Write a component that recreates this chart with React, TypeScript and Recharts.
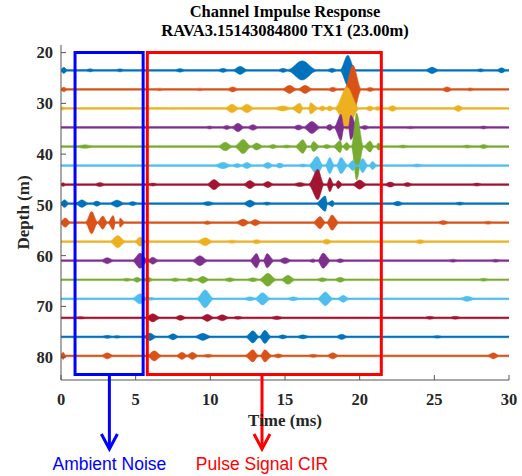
import React from 'react';
import { ComposedChart, Area, XAxis, YAxis, ReferenceArea, ReferenceLine } from 'recharts';

const timeTicks = [0, 5, 10, 15, 20, 25, 30];
const depthTicks = [20, 30, 40, 50, 60, 70, 80];

const traceDepths = [23.5, 27.25, 31, 34.75, 38.5, 42.25, 46, 49.75, 53.5, 57.25, 61, 64.75, 68.5, 72.25, 76, 79.75];
const matlabColors = ['#0072BD', '#D95319', '#EDB120', '#7E2F8E', '#77AC30', '#4DBEEE', '#A2142F'];

// envelope blobs: [time (ms), half amplitude (m), half width (ms)]
const trace01 = [[0.2, 0.6, 0.2], [1.95, 0.3, 0.25], [3.95, 0.3, 0.25], [7.97, 0.35, 0.3], [10.85, 0.4, 0.3], [12.0, 0.8, 0.45], [14.87, 0.4, 0.3], [16.15, 1.9, 0.95], [18.15, 0.4, 0.3], [19.2, 3.0, 0.5], [24.85, 0.65, 0.4], [28.1, 0.3, 0.25], [29.5, 0.5, 0.3]];
const trace02 = [[0.2, 0.45, 0.2], [6.6, 0.25, 0.25], [9.3, 0.25, 0.25], [11.5, 0.5, 0.35], [15.3, 0.8, 0.45], [16.35, 0.8, 0.45], [18.2, 0.45, 0.3], [19.55, 4.8, 0.55], [20.7, 0.4, 0.3], [25.85, 0.5, 0.35], [27.4, 0.3, 0.25]];
const trace03 = [[0.1, 0.3, 0.2], [7.5, 0.2, 0.25], [11.45, 0.85, 0.45], [12.45, 0.85, 0.45], [14.85, 0.5, 0.6], [16.0, 1.0, 0.6], [16.7, 1.1, 0.5], [17.5, 0.5, 0.25], [18.0, 0.5, 0.25], [19.15, 4.2, 0.8], [20.7, 0.5, 0.3], [21.2, 0.4, 0.25], [22.2, 0.55, 0.35], [26.6, 0.6, 0.35]];
const trace04 = [[9.95, 0.3, 0.25], [11.1, 0.4, 0.3], [11.85, 0.85, 0.4], [12.85, 0.55, 0.35], [15.9, 0.5, 0.35], [16.8, 1.2, 0.55], [18.0, 0.6, 0.3], [18.75, 2.6, 0.5], [19.4, 2.4, 0.45], [20.35, 0.4, 0.3], [23.4, 0.25, 0.3], [28.3, 0.3, 0.3]];
const trace05 = [[1.6, 0.35, 0.5], [11.0, 0.85, 0.45], [12.2, 1.4, 0.55], [13.1, 0.7, 0.4], [14.2, 0.4, 0.3], [15.1, 0.3, 0.3], [16.2, 1.35, 0.5], [16.9, 1.0, 0.4], [17.8, 0.4, 0.3], [18.7, 1.2, 0.45], [19.15, 0.8, 0.3], [19.8, 6.6, 0.45], [20.7, 1.1, 0.4], [21.25, 0.7, 0.3], [22.9, 0.3, 0.3], [27.2, 0.3, 0.3], [28.3, 0.4, 0.3]];
const trace06 = [[10.85, 0.65, 0.5], [11.8, 0.4, 0.3], [12.45, 0.6, 0.35], [13.85, 0.6, 0.35], [14.65, 0.5, 0.3], [16.2, 0.3, 0.3], [17.15, 1.8, 0.55], [18.0, 1.6, 0.45], [18.75, 1.6, 0.45], [19.55, 1.0, 0.35], [20.2, 1.4, 0.45], [20.85, 0.8, 0.3], [23.85, 0.3, 0.35]];
const trace07 = [[0.15, 0.35, 0.15], [2.6, 0.4, 0.3], [6.15, 0.3, 0.3], [10.25, 1.0, 0.45], [12.65, 0.8, 0.4], [13.85, 0.6, 0.35], [16.0, 0.4, 0.4], [17.2, 3.0, 0.6], [18.0, 1.4, 0.4], [18.55, 0.8, 0.3], [20.0, 0.9, 0.45], [22.05, 0.5, 0.35], [23.2, 0.4, 0.3], [27.85, 0.3, 0.3]];
const trace08 = [[0.25, 0.75, 0.25], [1.4, 0.75, 0.4], [2.4, 0.5, 0.3], [3.75, 0.7, 0.45], [4.8, 0.4, 0.3], [9.85, 0.4, 0.4], [12.65, 0.7, 0.4], [13.8, 0.3, 0.3], [17.7, 1.5, 0.6], [18.2, 0.6, 0.35], [22.55, 0.45, 0.35], [26.7, 0.3, 0.3]];
const trace09 = [[0.3, 0.9, 0.3], [2.05, 2.2, 0.4], [2.8, 1.3, 0.35], [3.5, 1.4, 0.4], [3.95, 0.9, 0.3], [9.8, 0.35, 0.3], [12.2, 0.7, 0.45], [13.0, 0.6, 0.4], [17.35, 1.2, 0.45], [18.15, 1.5, 0.45], [25.6, 0.4, 0.35], [28.6, 0.3, 0.3]];
const trace10 = [[3.8, 1.2, 0.5], [5.3, 0.9, 0.35], [9.65, 0.8, 0.5], [11.45, 0.3, 0.35], [13.1, 0.4, 0.35], [17.8, 0.5, 0.35], [24.05, 0.4, 0.35]];
const trace11 = [[3.1, 0.6, 0.4], [5.3, 1.5, 0.5], [6.15, 0.7, 0.35], [9.3, 1.0, 0.5], [13.1, 1.4, 0.45], [13.8, 1.4, 0.45], [15.0, 0.6, 0.4], [16.9, 0.35, 0.3], [17.55, 1.5, 0.5], [18.7, 0.4, 0.3], [26.25, 0.3, 0.3], [29.1, 0.3, 0.3]];
const trace12 = [[4.4, 0.3, 0.3], [5.1, 0.5, 0.3], [5.85, 0.5, 0.3], [7.65, 0.35, 0.3], [8.65, 0.4, 0.3], [9.5, 0.7, 0.4], [11.3, 0.4, 0.35], [12.85, 0.4, 0.35], [13.85, 1.3, 0.55], [15.2, 0.9, 0.45], [17.5, 0.4, 0.35], [18.7, 0.5, 0.35], [28.3, 0.3, 0.3]];
const trace13 = [[5.3, 1.0, 0.5], [6.0, 0.3, 0.25], [9.65, 1.75, 0.55], [12.65, 0.4, 0.35], [13.5, 1.2, 0.5], [15.55, 0.4, 0.35], [17.7, 1.35, 0.5], [18.9, 0.7, 0.35], [27.2, 0.5, 0.45]];
const trace14 = [[1.3, 0.25, 0.3], [6.15, 0.8, 0.45], [8.0, 0.5, 0.35], [9.8, 0.7, 0.4], [10.8, 0.6, 0.4], [11.85, 0.3, 0.3], [14.45, 0.35, 0.35], [24.7, 0.3, 0.3], [26.4, 0.3, 0.3]];
const trace15 = [[3.1, 0.3, 0.3], [3.75, 0.25, 0.25], [5.95, 0.75, 0.4], [7.5, 0.6, 0.35], [9.5, 0.7, 0.5], [12.85, 1.2, 0.45], [13.65, 1.3, 0.4], [14.85, 0.4, 0.3], [16.2, 0.4, 0.35], [18.8, 0.5, 0.35], [25.2, 0.25, 0.3]];
const trace16 = [[0.15, 0.7, 0.15], [3.1, 0.6, 0.35], [6.25, 1.0, 0.45], [8.1, 0.7, 0.35], [8.8, 0.7, 0.35], [9.85, 0.3, 0.3], [12.85, 1.2, 0.5], [13.65, 1.2, 0.45], [14.55, 0.4, 0.3], [16.9, 0.3, 0.3], [18.2, 0.6, 0.35], [28.95, 0.6, 0.35]];

const traceBlobs = [trace01, trace02, trace03, trace04, trace05, trace06, trace07, trace08, trace09, trace10, trace11, trace12, trace13, trace14, trace15, trace16];

// half thickness of the quiet part of a trace (m)
const BASE = 0.17;

function buildTrace(depth: number, blobs: number[][]) {
  const pts: number[][] = [[0, BASE], [30, BASE]];
  blobs.forEach(([t, a, w]) => {
    pts.push([Math.max(0, t - w), BASE], [t, a], [Math.min(30, t + w), BASE]);
  });
  pts.sort((p, q) => p[0] - q[0] || q[1] - p[1]);
  const out: number[][] = [];
  pts.forEach((p) => {
    if (out.length && Math.abs(out[out.length - 1][0] - p[0]) < 1e-6) return;
    out.push(p);
  });
  return out.map(([t, a]) => ({ t, r: [depth - a, depth + a] }));
}

const noiseBox = { x1: 0.94, x2: 5.5, y1: 20, y2: 83.4 };
const pulseBox = { x1: 5.78, x2: 21.45, y1: 20, y2: 83.4 };
const arrows = [
  { x: 3.24, label: 'Ambient Noise', color: '#0000FF' },
  { x: 13.46, label: 'Pulse Signal CIR', color: '#FF0000' },
];
const arrowFrom = 83.4;
const arrowTo = 98.1;

const serif = '"Liberation Serif", "Times New Roman", serif';
const tickStyle = { fontFamily: serif, fontSize: 16.5, fontWeight: 'bold', fill: '#262626' };

const makeArrow = (color: string, label: string) => (props: any) => {
  const { x1, y1, x2, y2 } = props;
  return (
    <g>
      <line x1={x1} y1={y1} x2={x2} y2={y2 - 1} stroke={color} strokeWidth={3} />
      <polyline points={`${x2 - 8},${y2 - 15} ${x2},${y2} ${x2 + 8},${y2 - 15}`} fill="none" stroke={color} strokeWidth={3} />
      <text x={x2} y={y2 + 21} textAnchor="middle" fill={color} fontFamily='"Liberation Sans", Arial, sans-serif' fontSize={17.5}>
        {label}
      </text>
    </g>
  );
};

export default function App() {
  return (
    <div style={{ position: 'absolute', left: 0, top: 0, width: 522, height: 476, background: '#fff' }}>
      <div style={{ position: 'absolute', left: 61, top: 2, width: 448, textAlign: 'center', fontFamily: serif, fontWeight: 'bold', fontSize: 16.5, lineHeight: '19px', color: '#000' }}>
        <div>Channel Impulse Response</div>
        <div>RAVA3.15143084800 TX1 (23.00m)</div>
      </div>
      <ComposedChart width={522} height={476} margin={{ top: 45, right: 13, bottom: 49, left: 1 }}>
        <XAxis
          xAxisId="t"
          dataKey="t"
          type="number"
          domain={[0, 30]}
          ticks={timeTicks}
          allowDataOverflow
          height={47}
          stroke="#555"
          tickSize={-5}
          tickMargin={18}
          tick={tickStyle}
          label={{ value: 'Time (ms)', position: 'insideBottom', offset: 1, style: { fontFamily: serif, fontSize: 17, fontWeight: 'bold', fill: '#262626' } }}
        />
        <XAxis xAxisId="top" orientation="top" dataKey="t" type="number" domain={[0, 30]} ticks={timeTicks} height={0} stroke="#555" tickSize={-5} tick={false} />
        <YAxis
          yAxisId="d"
          type="number"
          domain={[18.5, 84.5]}
          ticks={depthTicks}
          reversed
          allowDataOverflow
          width={60}
          stroke="#555"
          tickSize={-5}
          tickMargin={13}
          tick={tickStyle}
          label={{ value: 'Depth (m)', angle: -90, position: 'insideLeft', offset: 22, style: { textAnchor: 'middle', fontFamily: serif, fontSize: 17, fontWeight: 'bold', fill: '#262626' } }}
        />
        <YAxis yAxisId="right" orientation="right" type="number" domain={[18.5, 84.5]} ticks={depthTicks} reversed width={0} stroke="#555" tickSize={-5} tick={false} />
        {traceDepths.map((d, i) => {
          const c = matlabColors[i % matlabColors.length];
          return (
            <Area
              key={i}
              xAxisId="t"
              yAxisId="d"
              data={buildTrace(d, traceBlobs[i])}
              dataKey="r"
              type="monotone"
              stroke={c}
              strokeWidth={0.5}
              fill={c}
              fillOpacity={1}
              dot={false}
              activeDot={false}
              isAnimationActive={false}
            />
          );
        })}
        <ReferenceArea xAxisId="t" yAxisId="d" {...noiseBox} fill="none" fillOpacity={0} stroke="#0000FF" strokeWidth={3} zIndex={1500} />
        <ReferenceArea xAxisId="t" yAxisId="d" {...pulseBox} fill="none" fillOpacity={0} stroke="#FF0000" strokeWidth={3} zIndex={1500} />
        {arrows.map((a) => (
          <ReferenceLine
            key={a.label}
            xAxisId="t"
            yAxisId="d"
            segment={[{ x: a.x, y: arrowFrom }, { x: a.x, y: arrowTo }]}
            ifOverflow="visible"
            shape={makeArrow(a.color, a.label)}
            zIndex={1500}
          />
        ))}
      </ComposedChart>
    </div>
  );
}
